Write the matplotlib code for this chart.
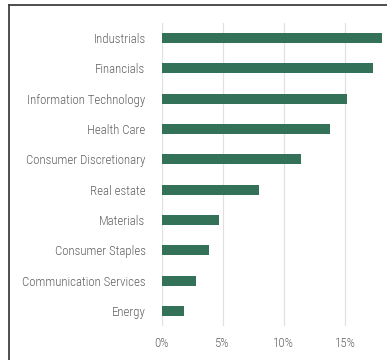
import matplotlib.pyplot as plt
from matplotlib.lines import Line2D
from matplotlib import font_manager

# data
sectors = ["Industrials", "Financials", "Information Technology", "Health Care",
           "Consumer Discretionary", "Real estate", "Materials", "Consumer Staples",
           "Communication Services", "Energy"]
weights = [18.0, 17.3, 15.2, 13.8, 11.4, 8.0, 4.7, 3.9, 2.8, 1.85]
xticks = [0, 5, 10, 15]
xtick_labels = ["0%", "5%", "10%", "15%"]

# pick a narrow font if one is installed
installed = {f.name for f in font_manager.fontManager.ttflist}
families = [f for f in ["Roboto Condensed", "Liberation Sans Narrow", "Arial Narrow"] if f in installed]
plt.rcParams["font.family"] = families + ["Roboto", "DejaVu Sans"]
fsize = 9.3 if families else 8.4
tcol = "#606060"

fig = plt.figure(figsize=(3.87, 3.6), dpi=100)
W, H = 387, 360
# axes extends past the right edge (chart appears cropped)
ax = fig.add_axes([161.5 / W, 1 - 326 / H, (406 - 161.5) / W, (326 - 23) / H])

ypos = list(range(len(sectors)))
ax.barh(ypos, weights, height=0.33, color="#337159", zorder=3)
ax.set_ylim(len(sectors) - 0.5, -0.5)
ax.set_xlim(0, 20)
ax.set_yticks(ypos)
ax.set_yticklabels(sectors, fontsize=fsize, color=tcol, fontweight="light")
ax.set_xticks(xticks)
ax.set_xticklabels(xtick_labels, fontsize=fsize, color=tcol, fontweight="light")
ax.tick_params(axis="both", length=0)
ax.tick_params(axis="y", pad=11.5)
ax.tick_params(axis="x", pad=8)
ax.grid(axis="x", color="#e0e0e0", linewidth=0.9, zorder=0)
for s in ax.spines.values():
    s.set_visible(False)

# outer frame (top and left)
fig.add_artist(Line2D([8.5 / W, 8.5 / W], [0, 1 - 4.5 / H], transform=fig.transFigure,
                      color="#404040", linewidth=1.3))
fig.add_artist(Line2D([8.5 / W, 1], [1 - 4.5 / H, 1 - 4.5 / H], transform=fig.transFigure,
                      color="#404040", linewidth=1.3))

fig.savefig("out.png", dpi=100)
